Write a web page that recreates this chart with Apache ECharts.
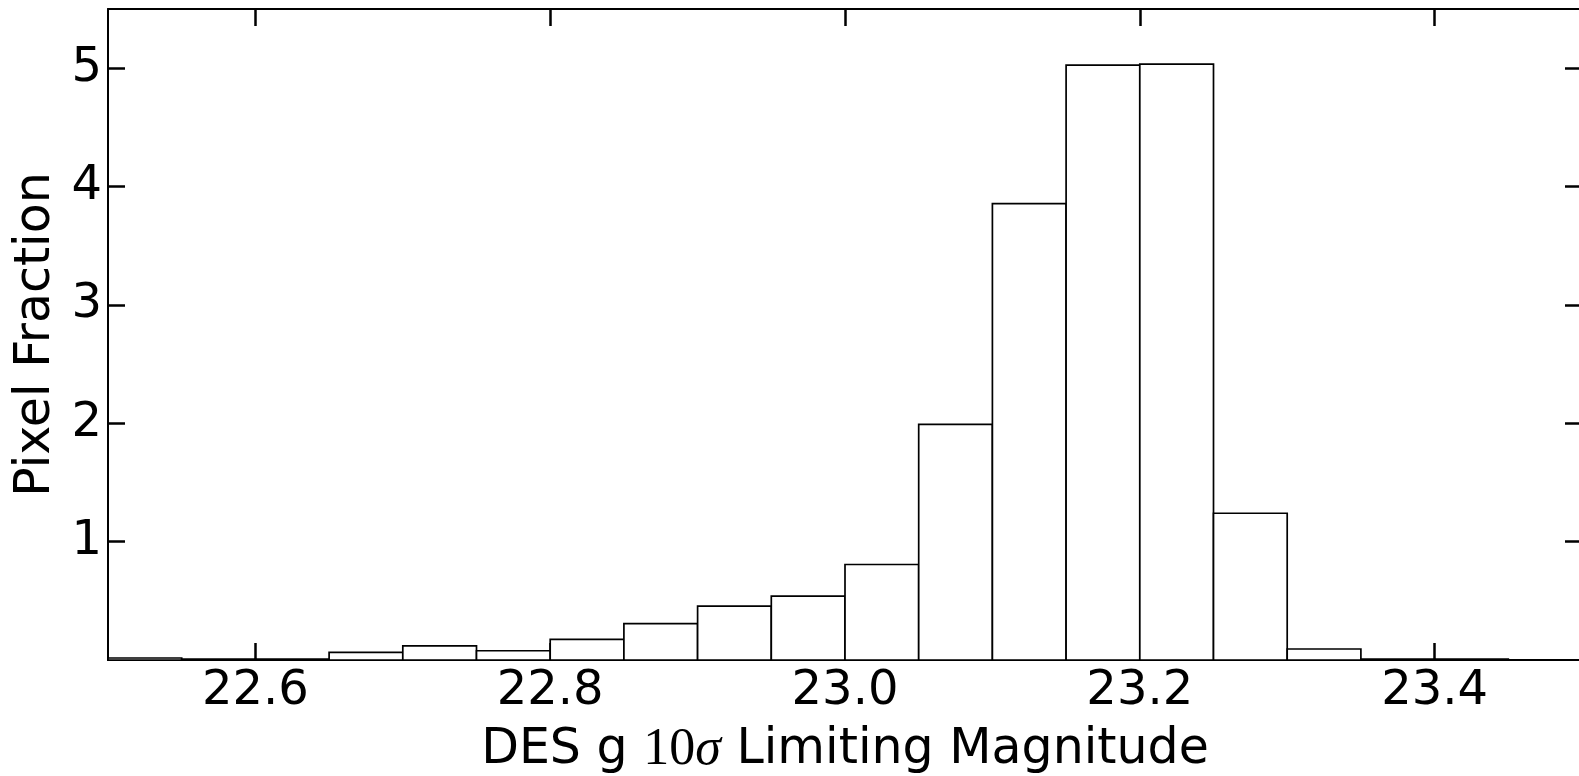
<!DOCTYPE html>
<html>
<head>
<meta charset="utf-8">
<script src="https://cdn.jsdelivr.net/npm/echarts@6/dist/echarts.min.js"></script>
<style>
  html, body { margin: 0; padding: 0; background: #fff; }
  #histChart { width: 1579px; height: 776px; }
</style>
</head>
<body>
<div id="histChart"></div>
<script>
// bin edges (mag) and heights
const binLo = [22.50, 22.55, 22.60, 22.65, 22.70, 22.75, 22.80, 22.85, 22.90, 22.95,
               23.00, 23.05, 23.10, 23.15, 23.20, 23.25, 23.30, 23.35, 23.40];
const binHi = [22.55, 22.60, 22.65, 22.70, 22.75, 22.80, 22.85, 22.90, 22.95, 23.00,
               23.05, 23.10, 23.15, 23.20, 23.25, 23.30, 23.35, 23.40, 23.45];
const pixelFraction = [0.017, 0.008, 0.008, 0.065, 0.12, 0.078, 0.175, 0.307, 0.456, 0.54,
                       0.807, 1.99, 3.856, 5.025, 5.035, 1.24, 0.093, 0.008, 0.008];
const xTicks = [22.6, 22.8, 23.0, 23.2, 23.4];
const yTicks = [1, 2, 3, 4, 5];

const font = 'DejaVu Sans';
const black = '#000';

const histData = binLo.map((lo, i) => [lo, binHi[i], pixelFraction[i]]);

const chart = echarts.init(document.getElementById('histChart'));

const tickStyle = { show: true, inside: true, length: 17, lineStyle: { color: black, width: 2.5 } };
const lineStyle = { show: true, onZero: false, lineStyle: { color: black, width: 2 } };

chart.setOption({
  animation: false,
  backgroundColor: '#fff',
  grid: {
    left: 108,
    top: 9,
    right: -3,
    bottom: 116,
    outerBoundsMode: 'none'
  },
  xAxis: [
    {
      type: 'value',
      position: 'bottom',
      min: 22.5,
      max: 23.5,
      axisLine: lineStyle,
      axisTick: Object.assign({ customValues: xTicks }, tickStyle),
      splitLine: { show: false },
      axisLabel: {
        customValues: xTicks,
        formatter: v => v.toFixed(1),
        color: black,
        fontFamily: font,
        fontSize: 48,
        margin: 8
      },
      name: '{t|DES g }{n|10}{s|σ}{t| Limiting Magnitude}',
      nameLocation: 'middle',
      nameGap: 64,
      nameTextStyle: {
        rich: {
          t: { fontFamily: font, fontSize: 49, color: black },
          n: { fontFamily: 'Liberation Serif', fontSize: 52, color: black },
          s: { fontFamily: 'Liberation Serif', fontStyle: 'italic', fontSize: 52, color: black }
        }
      }
    },
    {
      type: 'value',
      position: 'top',
      min: 22.5,
      max: 23.5,
      axisLine: lineStyle,
      axisTick: Object.assign({ customValues: xTicks }, tickStyle),
      axisLabel: { show: false },
      splitLine: { show: false }
    }
  ],
  yAxis: [
    {
      type: 'value',
      position: 'left',
      min: 0,
      max: 5.5,
      axisLine: lineStyle,
      axisTick: Object.assign({ customValues: yTicks }, tickStyle),
      splitLine: { show: false },
      axisLabel: {
        customValues: yTicks,
        color: black,
        fontFamily: font,
        fontSize: 48,
        margin: 6
      },
      name: 'Pixel Fraction',
      nameLocation: 'middle',
      nameGap: 40,
      nameTextStyle: { fontFamily: font, fontSize: 49, color: black }
    },
    {
      type: 'value',
      position: 'right',
      min: 0,
      max: 5.5,
      axisLine: lineStyle,
      axisTick: Object.assign({ customValues: yTicks }, tickStyle),
      axisLabel: { show: false },
      splitLine: { show: false }
    }
  ],
  series: [
    {
      type: 'custom',
      xAxisIndex: 0,
      yAxisIndex: 0,
      data: histData,
      encode: { x: [0, 1], y: 2 },
      renderItem: function (params, api) {
        const p0 = api.coord([api.value(0), 0]);
        const p1 = api.coord([api.value(1), api.value(2)]);
        return {
          type: 'rect',
          shape: { x: p0[0], y: p1[1], width: p1[0] - p0[0], height: p0[1] - p1[1] },
          style: { fill: '#fff', stroke: black, lineWidth: 1.7 }
        };
      }
    }
  ]
});
</script>
</body>
</html>
